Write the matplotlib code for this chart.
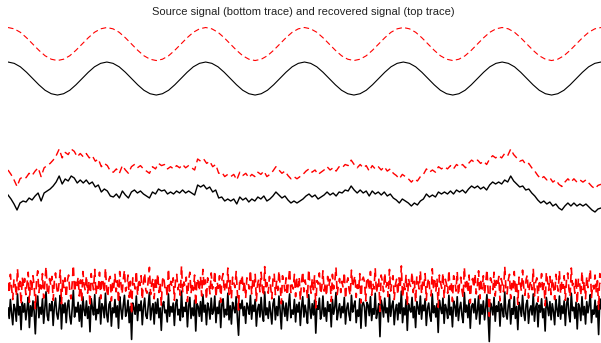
import numpy as np
import matplotlib.pyplot as plt

plt.rcParams.update({"font.family": ["Liberation Sans", "DejaVu Sans"]})

TITLE = "Source signal (bottom trace) and recovered signal (top trace)"

# Panel 1: sinusoidal source (16 samples per period, 6 periods)
sine_src = [
    1.0, 0.92, 0.71, 0.38, 0.0, -0.38, -0.71, -0.92, -1.0, -0.92, -0.71, -0.38, 0.0, 0.38, 0.71, 0.92,
    1.0, 0.92, 0.71, 0.38, 0.0, -0.38, -0.71, -0.92, -1.0, -0.92, -0.71, -0.38, 0.0, 0.38, 0.71, 0.92,
    1.0, 0.92, 0.71, 0.38, 0.0, -0.38, -0.71, -0.92, -1.0, -0.92, -0.71, -0.38, 0.0, 0.38, 0.71, 0.92,
    1.0, 0.92, 0.71, 0.38, 0.0, -0.38, -0.71, -0.92, -1.0, -0.92, -0.71, -0.38, 0.0, 0.38, 0.71, 0.92,
    1.0, 0.92, 0.71, 0.38, 0.0, -0.38, -0.71, -0.92, -1.0, -0.92, -0.71, -0.38, 0.0, 0.38, 0.71, 0.92,
    1.0, 0.92, 0.71, 0.38, 0.0, -0.38, -0.71, -0.92, -1.0, -0.92, -0.71, -0.38, 0.0, 0.38, 0.71, 0.92,
    1.0,
]

# Panel 2: slowly wandering source
walk_src = [
    0.0, -0.4, -0.9, -1.5, -0.8, -0.6, -0.7, -0.3, -0.5, -0.1, 0.2, -0.6, 0.2, 0.4, 0.6, 0.9, 1.3, 1.9, 1.1, 1.6,
    1.4, 1.9, 1.7, 1.2, 1.5, 1.2, 1.5, 1.1, 1.3, 0.8, 1.0, 0.3, 0.6, 0.4, -0.1, -0.2, 0.1, -0.3, 0.4, 0.0,
    -0.3, 0.3, 0.5, 0.2, 0.4, 0.1, -0.1, -0.3, 0.3, 0.1, 0.6, 0.4, 0.5, 0.1, 0.3, 0.1, 0.4, 0.2, 0.5, 0.2,
    0.4, 0.2, 0.0, 1.0, 0.8, 1.0, 0.6, 0.8, 0.3, 0.5, -0.3, -0.2, -0.6, -0.4, -0.6, -0.4, -0.9, -0.2, -0.5, -0.3,
    -0.7, -0.4, -0.6, -0.2, -0.4, -0.1, -0.6, -0.4, -0.1, 0.3, 0.0, -0.3, -0.1, -0.5, -0.8, -0.6, -0.8, -0.6, -0.4, -0.1,
    0.1, -0.2, 0.0, -0.4, -0.2, 0.0, 0.3, 0.0, 0.2, -0.1, 0.3, 0.2, 0.5, 0.4, 0.9, 0.5, 0.2, 0.5, 0.2, 0.4,
    -0.1, 0.4, 0.1, 0.3, 0.0, 0.3, -0.1, 0.1, -0.3, -0.5, -0.8, -0.4, -0.6, -0.8, -1.1, -0.8, -1.0, -0.6, -0.4, 0.1,
    -0.2, 0.0, -0.2, 0.3, 0.1, 0.3, 0.1, 0.4, 0.1, 0.5, 0.3, 0.5, 0.2, 0.6, 0.9, 0.7, 0.9, 0.6, 0.8, 0.5,
    1.0, 1.3, 1.1, 1.3, 1.1, 1.5, 1.3, 1.9, 1.4, 1.1, 0.8, 0.9, 0.5, 0.6, 0.2, -0.1, -0.5, -0.8, -0.6, -0.9,
    -0.7, -1.1, -0.9, -1.3, -1.5, -1.1, -0.8, -1.1, -0.8, -1.1, -0.9, -1.1, -0.9, -1.2, -1.5, -1.7, -1.4, -1.3,
]

# Panel 3: noise-like source
noise_src = [
    0.3, -1.2, 1.5, -0.4, -2.1, 0.8, 0.2, -1.6, 2.3, -0.7, 0.5, -2.8, 1.1, -0.3, 0.9, -1.4, 0.1, 1.8, -2.5, 0.6,
    -0.9, 1.3, -0.2, -3.4, 0.7, 2.0, -1.1, 0.4, -0.6, 1.6, -1.9, 0.2, 2.6, -0.8, -1.5, 0.9, -0.1, 1.2, -2.2, 0.5,
    1.7, -0.5, -1.3, 0.3, 2.1, -2.7, 0.8, -0.4, 1.0, -1.8, 0.6, 1.4, -0.9, -2.0, 0.2, 2.8, -1.0, 0.4, -0.3, 1.1,
    -1.6, 0.7, -2.4, 1.9, 0.0, -0.8, 1.3, -1.2, 0.5, -3.1, 1.6, 0.3, -0.7, 2.2, -1.4, 0.1, -0.5, 1.8, -2.0, 0.9,
    0.4, -1.1, 2.4, -0.6, -1.7, 0.8, 1.2, -2.3, 0.3, -0.4, 1.5, -1.0, 0.6, -2.6, 1.9, 0.2, -1.3, 0.7, 2.1, -0.9,
    -0.2, 1.4, -1.8, 0.5, -4.2, 1.0, 0.3, -0.6, 2.0, -1.5, 0.8, -0.1, 1.3, -2.1, 0.4, 1.7, -0.8, -1.2, 0.6, 2.5,
    -1.4, 0.2, 0.9, -2.0, 1.1, -0.5, 1.6, -1.1, 0.3, -2.9, 0.7, 1.2, -0.4, 0.0, -1.7, 2.3, -0.9, 0.5, -0.3, 1.0,
    -2.2, 0.8, 1.5, -0.7, 0.1, -1.5, 2.7, -1.0, 0.4, -0.2, 1.1, -2.4, 0.6, 1.8, -1.2, 0.3, -0.8, 1.4, -3.0, 0.9,
    0.5, -0.9, 1.2, -1.6, 2.2, -0.3, 0.7, -2.1, 1.0, 0.2, -1.3, 1.7, -0.6, -0.1, 2.0, -1.8, 0.4, -0.5, 1.3, -2.5,
    0.8, 1.6, -1.0, 0.1, -0.7, 2.4, -1.4, 0.6, -2.0, 1.1, 0.3, -0.4, 1.9, -1.1, -3.6, 0.9, 0.2, 1.4, -0.8, 0.5,
    -1.9, 1.0, 0.4, -0.6, 2.1, -1.3, 0.7, -0.2, 1.5, -2.3, 0.1, 0.8, -1.0, 1.8, -0.5, -1.6, 2.6, -0.7, 0.3, -1.2,
    1.2, -0.3, -2.0, 0.9, 1.6, -1.4, 0.5, -0.8, 2.0, -0.1, -2.7, 1.3, 0.4, -0.9, 1.0, -1.5, 0.6, 2.3, -1.1, 0.0,
    -0.6, 1.5, -1.7, 0.8, -0.3, 1.1, -2.2, 0.4, 1.9, -1.0, 0.7, -0.4, -1.9, 2.2, 0.3, -1.2, 0.9, -0.7, 1.4, -3.3,
    0.6, 0.1, 1.7, -1.3, -0.5, 2.0, -0.9, 0.3, -1.6, 1.2, -0.2, 0.8, -2.4, 1.5, -0.6, 0.4, 2.5, -1.4, -0.1, 0.9,
    -1.1, 0.5, -0.4, 1.8, -2.0, 0.2, 1.0, -0.7, -1.5, 2.1, -0.3, 0.6, 1.3, -1.8, 0.0, -0.9, 1.6, -2.6, 0.7, 1.1,
    0.4, -2.3, 1.1, 0.7, -0.8, 1.9, -1.5, 0.2, -0.6, 2.4, -1.2, -0.2, 0.9, -3.8, 1.4, 0.5, -1.0, 1.7, -0.4, 0.3,
    -1.7, 2.2, -0.9, 0.6, 1.3, -2.1, 0.0, 0.8, -1.4, 1.0, -0.5, 2.7, -1.8, 0.3, -0.7, 1.5, -2.9, 0.9, 0.1, -0.3,
    1.8, -1.1, 0.5, -2.5, 1.2, 0.4, -0.6, 2.0, -1.3, 0.7, -0.1, 1.6, -2.2, 0.2, 1.0, -0.8, -1.6, 2.3, -0.4, 0.6,
    -1.0, 0.9, -3.2, 1.4, 0.3, -0.5, 1.7, -1.9, 0.8, 0.1, -1.2, 2.1, -0.7, 0.4, -2.4, 1.3, 0.6, -0.9, 1.9, -1.5,
    0.2, 1.1, -0.8, -1.8, 2.5, -0.3, 0.7, -1.1, 1.4, -2.6, 0.5, 0.9, -0.4, 1.6, -1.3, -0.1, 2.0, -2.0, 0.8, -0.6,
    1.3, -1.4, 0.3, 2.2, -0.9, -4.5, 1.0, 0.4, -0.7, 1.8, -1.6, 0.6, -0.2, 1.2, -2.3, 0.9, 0.1, -1.0, 2.6, -0.5,
    -1.3, 0.7, 1.5, -2.0, 0.2, -0.6, 1.9, -1.2, 0.5, -2.8, 1.1, 0.3, -0.9, 2.1, -0.4, -1.5, 0.8, 1.4, -1.9, 0.0,
    0.6, -0.7, 2.3, -1.6, 0.4, 1.0, -2.4, 0.7, -0.3, 1.6, -1.1, 0.2, -3.0, 1.8, 0.5, -0.8, 1.2, -1.4, 0.9, -0.2,
    -2.1, 1.5, 0.1, -0.9, 2.0, -1.3, 0.6, -0.5, 1.3, -2.2, 0.8, 1.7, -0.6, -1.7, 2.4, -0.1, 0.4, -1.2, 1.1, -2.7,
    0.9, 0.3, -1.5, 1.9, -0.7, 0.5, -2.0, 1.2, -0.4, 0.7, 2.2, -1.8, 0.0, -0.6, 1.4, -1.0, 0.6, -3.5, 1.6, 0.2,
]

W, H = 601, 343
fig = plt.figure(figsize=(W / 100, H / 100), dpi=100)

# (signal, recovered scale, recovered offset, px top, px bottom, ylim, linewidth)
panels = [
    (sine_src, 1.0, 2.09, 20, 100, (-1.30, 3.545), 0.8),
    (walk_src, 1.1, 2.5, 140, 220, (-2.5, 5.5), 1.0),
    (noise_src, 1.0, 3.6, 255, 343, (-4.71, 7.86), 1.2),
]

x0, x1 = 8, 601
for src, k, off, top, bot, ylim, lw in panels:
    ax = fig.add_axes([x0 / W, 1 - bot / H, (x1 - x0) / W, (bot - top) / H])
    y = np.asarray(src)
    t = np.arange(len(y))
    ax.plot(t, y, color="black", linewidth=lw)
    ax.plot(t, k * y + off, color="red", linewidth=lw, dashes=(5, 3))
    ax.set_xlim(0, len(y) - 1)
    ax.set_ylim(*ylim)
    ax.axis("off")

fig.text(303 / W, 1 - 12 / H, TITLE, ha="center", va="center", fontsize=8, color="#222222")

fig.savefig("out.png", dpi=100)
